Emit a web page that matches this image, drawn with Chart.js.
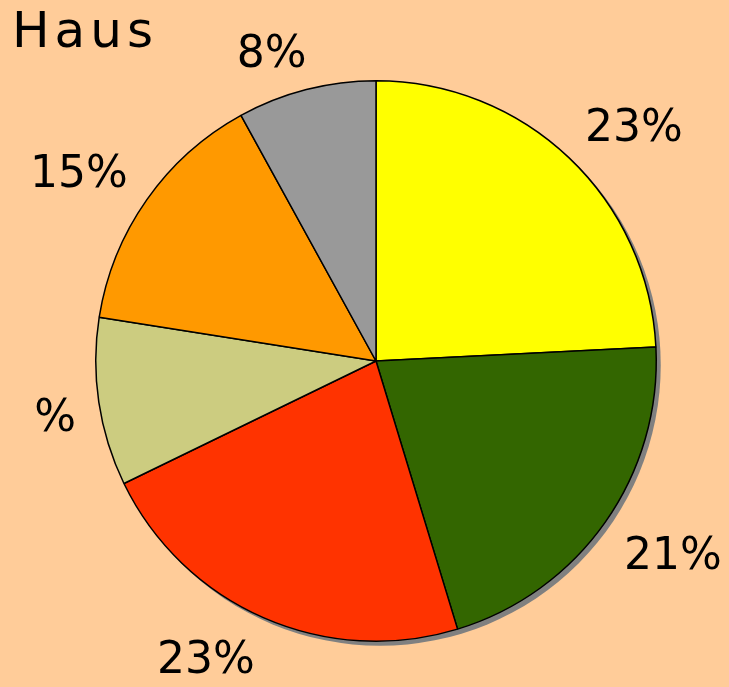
<!DOCTYPE html>
<html>
<head>
<meta charset="utf-8">
<script src="https://cdn.jsdelivr.net/npm/chart.js@4/dist/chart.umd.min.js"></script>
<style>
  html, body { margin: 0; padding: 0; background: #FFCC99; }
  #wrap { width: 729px; height: 687px; }
</style>
</head>
<body>
<div id="wrap"><canvas id="pie" width="729" height="687"></canvas></div>
<script>
const chartTitle = 'Haus';
const categories = ['Gelb', 'Grün', 'Rot', 'Khaki', 'Orange', 'Grau'];
const shares = [24.2, 21.1, 22.5, 9.7, 14.5, 8.0];
const shareLabels = ['23%', '21%', '23%', '%', '15%', '8%'];
const sliceColors = ['#FFFF00', '#336600', '#FF3300', '#CCCC80', '#FF9900', '#999999'];

// grey drop shadow behind the pie
const shadowPlugin = {
  id: 'pieShadow',
  beforeDatasetsDraw(chart) {
    const arc = chart.getDatasetMeta(0).data[0];
    if (!arc) return;
    const ctx = chart.ctx;
    ctx.save();
    ctx.fillStyle = '#808080';
    ctx.beginPath();
    ctx.arc(arc.x + 4, arc.y + 4, arc.outerRadius + 0.5, 0, Math.PI * 2);
    ctx.fill();
    ctx.restore();
  }
};

const clamp = v => Math.max(-1, Math.min(1, v));

// percentage labels outside the slices (box corner faces the pie) + title
const labelPlugin = {
  id: 'outerLabels',
  afterDatasetsDraw(chart) {
    const ctx = chart.ctx;
    const arcs = chart.getDatasetMeta(0).data;
    ctx.save();
    ctx.fillStyle = '#000';
    ctx.font = '44px "DejaVu Sans", sans-serif';
    ctx.textAlign = 'center';
    ctx.textBaseline = 'alphabetic';
    arcs.forEach((arc, i) => {
      const mid = (arc.startAngle + arc.endAngle) / 2;
      const dx = Math.cos(mid), dy = Math.sin(mid);
      const r = arc.outerRadius + 23;
      const ax = arc.x + dx * r, ay = arc.y + dy * r;
      const m = ctx.measureText(shareLabels[i]);
      const w = m.width, h = m.actualBoundingBoxAscent;
      const cx = ax + clamp(dx / 0.3) * w / 2;
      const cy = ay + clamp(dy / 0.3) * h / 2;
      ctx.fillText(shareLabels[i], cx, cy + h / 2);
    });
    ctx.font = '50px "DejaVu Sans", sans-serif';
    ctx.textAlign = 'left';
    ctx.letterSpacing = '5px';
    ctx.fillText(chartTitle, 12, 47);
    ctx.restore();
  }
};

new Chart(document.getElementById('pie').getContext('2d'), {
  type: 'pie',
  data: {
    labels: categories,
    datasets: [{
      data: shares,
      backgroundColor: sliceColors,
      borderColor: '#000000',
      borderWidth: 1.5
    }]
  },
  options: {
    responsive: false,
    animation: false,
    layout: { padding: { left: 95, right: 72, top: 80, bottom: 45 } },
    plugins: {
      legend: { display: false },
      tooltip: { enabled: false }
    }
  },
  plugins: [shadowPlugin, labelPlugin]
});
</script>
</body>
</html>
